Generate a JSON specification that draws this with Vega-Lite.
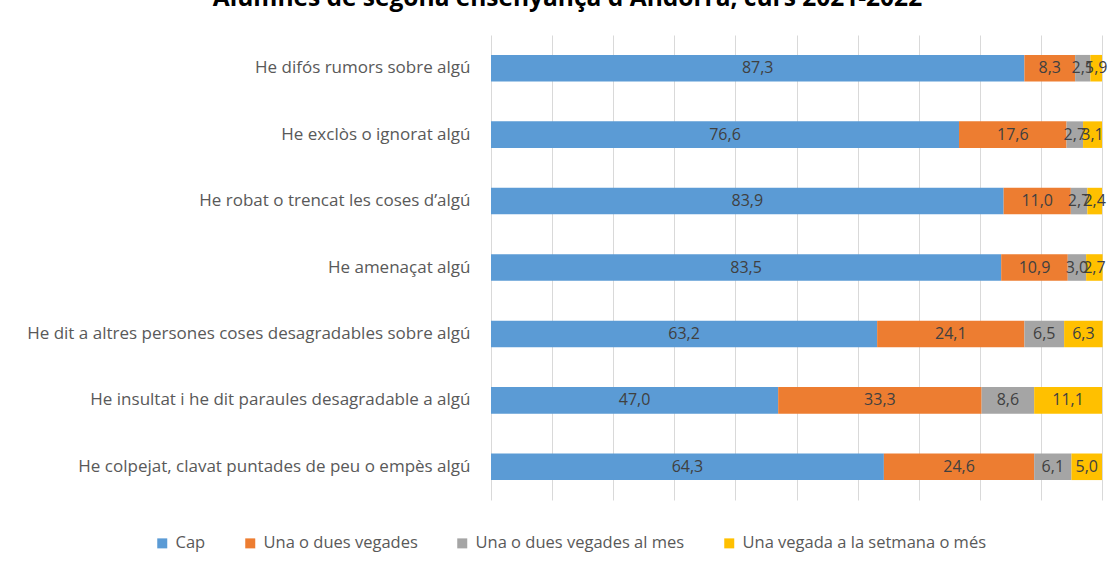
{
  "$schema": "https://vega.github.io/schema/vega-lite/v6.json",
  "autosize": {"type": "none"},
  "padding": {"left": 491, "top": 35, "right": 12, "bottom": 66},
  "width": 611,
  "height": 465,
  "background": "white",
  "config": {
    "font": "Open Sans",
    "view": {"stroke": null},
    "locale": {"number": {"decimal": ",", "thousands": ".", "grouping": [3], "currency": ["", " €"]}}
  },
  "title": {
    "text": "Alumnes de segona ensenyança d'Andorra, curs 2021-2022",
    "fontSize": 24.5,
    "fontWeight": "bold",
    "color": "#000000",
    "anchor": "middle",
    "frame": "group",
    "baseline": "alphabetic",
    "offset": 5,
    "dx": -229
  },
  "data": {
    "values": [
      {"item": "He difós rumors sobre algú", "cat": "Cap", "value": 87.3},
      {"item": "He difós rumors sobre algú", "cat": "Una o dues vegades", "value": 8.3},
      {"item": "He difós rumors sobre algú", "cat": "Una o dues vegades al mes", "value": 2.5},
      {"item": "He difós rumors sobre algú", "cat": "Una vegada a la setmana o més", "value": 1.9},
      {"item": "He exclòs o ignorat algú", "cat": "Cap", "value": 76.6},
      {"item": "He exclòs o ignorat algú", "cat": "Una o dues vegades", "value": 17.6},
      {"item": "He exclòs o ignorat algú", "cat": "Una o dues vegades al mes", "value": 2.7},
      {"item": "He exclòs o ignorat algú", "cat": "Una vegada a la setmana o més", "value": 3.1},
      {"item": "He robat o trencat les coses d’algú", "cat": "Cap", "value": 83.9},
      {"item": "He robat o trencat les coses d’algú", "cat": "Una o dues vegades", "value": 11.0},
      {"item": "He robat o trencat les coses d’algú", "cat": "Una o dues vegades al mes", "value": 2.7},
      {"item": "He robat o trencat les coses d’algú", "cat": "Una vegada a la setmana o més", "value": 2.4},
      {"item": "He amenaçat algú", "cat": "Cap", "value": 83.5},
      {"item": "He amenaçat algú", "cat": "Una o dues vegades", "value": 10.9},
      {"item": "He amenaçat algú", "cat": "Una o dues vegades al mes", "value": 3.0},
      {"item": "He amenaçat algú", "cat": "Una vegada a la setmana o més", "value": 2.7},
      {"item": "He dit a altres persones coses desagradables sobre algú", "cat": "Cap", "value": 63.2},
      {"item": "He dit a altres persones coses desagradables sobre algú", "cat": "Una o dues vegades", "value": 24.1},
      {"item": "He dit a altres persones coses desagradables sobre algú", "cat": "Una o dues vegades al mes", "value": 6.5},
      {"item": "He dit a altres persones coses desagradables sobre algú", "cat": "Una vegada a la setmana o més", "value": 6.3},
      {"item": "He insultat i he dit paraules desagradable a algú", "cat": "Cap", "value": 47.0},
      {"item": "He insultat i he dit paraules desagradable a algú", "cat": "Una o dues vegades", "value": 33.3},
      {"item": "He insultat i he dit paraules desagradable a algú", "cat": "Una o dues vegades al mes", "value": 8.6},
      {"item": "He insultat i he dit paraules desagradable a algú", "cat": "Una vegada a la setmana o més", "value": 11.1},
      {"item": "He colpejat, clavat puntades de peu o empès algú", "cat": "Cap", "value": 64.3},
      {"item": "He colpejat, clavat puntades de peu o empès algú", "cat": "Una o dues vegades", "value": 24.6},
      {"item": "He colpejat, clavat puntades de peu o empès algú", "cat": "Una o dues vegades al mes", "value": 6.1},
      {"item": "He colpejat, clavat puntades de peu o empès algú", "cat": "Una vegada a la setmana o més", "value": 5.0}
    ]
  },
  "transform": [
    {"stack": "value", "groupby": ["item"], "sort": [{"field": "cat", "order": "ascending"}], "as": ["v0", "v1"]},
    {"calculate": "(datum.v0 + datum.v1) / 2", "as": "mid"}
  ],
  "encoding": {
    "y": {
      "field": "item",
      "type": "nominal",
      "sort": [
        "He difós rumors sobre algú",
        "He exclòs o ignorat algú",
        "He robat o trencat les coses d’algú",
        "He amenaçat algú",
        "He dit a altres persones coses desagradables sobre algú",
        "He insultat i he dit paraules desagradable a algú",
        "He colpejat, clavat puntades de peu o empès algú"
      ],
      "scale": {"paddingInner": 0.6, "paddingOuter": 0.3},
      "axis": {
        "title": null,
        "domain": false,
        "ticks": false,
        "labelPadding": 21,
        "labelFontSize": 17,
        "labelColor": "#595959",
        "labelLimit": 500
      }
    }
  },
  "layer": [
    {
      "mark": {"type": "bar"},
      "encoding": {
        "x": {
          "field": "v0",
          "type": "quantitative",
          "scale": {"domain": [0, 100], "nice": false},
          "axis": {
            "title": null,
            "labels": false,
            "ticks": false,
            "domain": false,
            "values": [0, 10, 20, 30, 40, 50, 60, 70, 80, 90, 100],
            "grid": true,
            "gridColor": "#D9D9D9",
            "gridWidth": 1
          }
        },
        "x2": {"field": "v1"},
        "color": {
          "field": "cat",
          "type": "nominal",
          "scale": {
            "domain": ["Cap", "Una o dues vegades", "Una o dues vegades al mes", "Una vegada a la setmana o més"],
            "range": ["#5B9BD5", "#ED7D31", "#A5A5A5", "#FFC000"]
          },
          "legend": {
            "title": null,
            "orient": "none",
            "direction": "horizontal",
            "columns": 4,
            "legendX": -337,
            "legendY": 500,
            "symbolType": "square",
            "symbolSize": 100,
            "symbolStrokeWidth": 0,
            "labelFontSize": 16.5,
            "labelColor": "#595959",
            "labelOffset": 5,
            "columnPadding": 36,
            "labelLimit": 400
          }
        }
      }
    },
    {
      "mark": {"type": "text", "align": "center", "baseline": "middle", "fontSize": 16, "color": "#404040"},
      "encoding": {
        "x": {"field": "mid", "type": "quantitative"},
        "text": {"field": "value", "type": "quantitative", "format": ".1f"}
      }
    }
  ]
}
